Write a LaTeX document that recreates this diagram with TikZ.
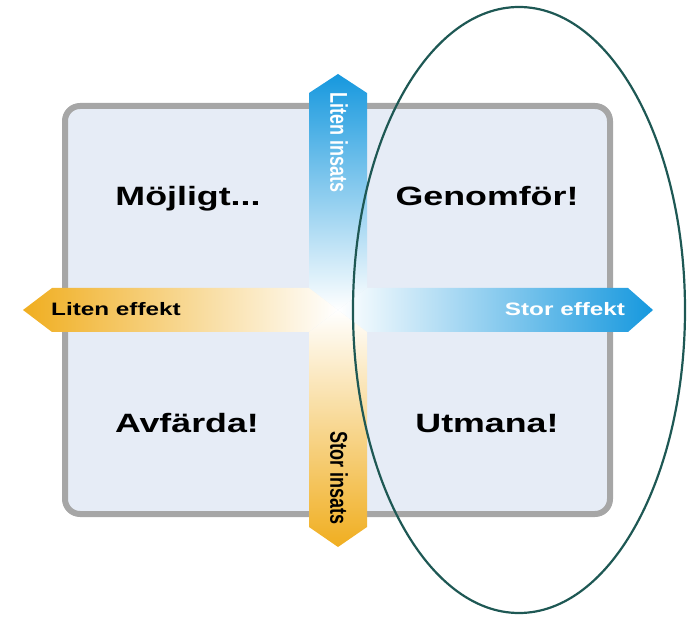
\documentclass[tikz,border=0pt]{standalone}
\usepackage{fontspec}
\setmainfont{Liberation Sans}

\definecolor{axisblue}{RGB}{22,152,222}
\definecolor{axisorange}{RGB}{240,174,32}
\definecolor{boardfill}{RGB}{230,236,246}
\definecolor{boardgrey}{RGB}{166,166,166}
\definecolor{ringteal}{RGB}{30,88,84}

\newcommand{\widetext}[1]{\scalebox{1.35}[1]{#1}}
\newcommand{\talltext}[1]{\scalebox{1}[1.35]{#1}}

\begin{document}
\begin{tikzpicture}[
    x=1pt, y=-1pt,
    board/.style={draw=boardgrey, line width=6pt, fill=boardfill, rounded corners=15pt},
    quad/.style={font=\bfseries\fontsize{26.5}{30}\selectfont, anchor=base, inner sep=0pt},
    axislabel/.style={font=\bfseries\fontsize{18}{20}\selectfont, inner sep=0pt},
    ring/.style={draw=ringteal, line width=2.2pt}
]
    \useasboundingbox (0,0) rectangle (699,617);
    \draw[board] (65,106) rectangle (610,514);
    \shade[top color=axisblue, bottom color=white]
        (309,288) -- (309,93) -- (338,74) -- (367,93) -- (367,288) -- (338,310) -- cycle;
    \shade[left color=white, right color=axisblue]
        (367,288) -- (628,288) -- (653,310) -- (628,332) -- (367,332) -- (338,310) -- cycle;
    \shade[left color=axisorange, right color=white]
        (309,288) -- (52,288) -- (23,310) -- (52,332) -- (309,332) -- (338,310) -- cycle;
    \shade[top color=white, bottom color=axisorange]
        (309,332) -- (309,527) -- (338,547) -- (367,527) -- (367,332) -- (338,310) -- cycle;
    \node[quad] (possible) at (188,206) {\widetext{Möjligt...}};
    \node[quad] (doit) at (487,206) {\widetext{Genomför!}};
    \node[quad] (dismiss) at (187,432) {\widetext{Avfärda!}};
    \node[quad] (challenge) at (487,432) {\widetext{Utmana!}};
    \node[axislabel, anchor=base] (loweffect) at (116,316) {\widetext{Liten effekt}};
    \node[axislabel, anchor=base, text=white] (higheffect) at (565,316) {\widetext{Stor effekt}};
    \node[axislabel, rotate=-90, text=white] (lowcost) at (339,143) {\talltext{Liten insats}};
    \node[axislabel, rotate=-90] (highcost) at (339,478) {\talltext{Stor insats}};
    \draw[ring] (519,310) ellipse [x radius=166pt, y radius=303pt];
\end{tikzpicture}
\end{document}
